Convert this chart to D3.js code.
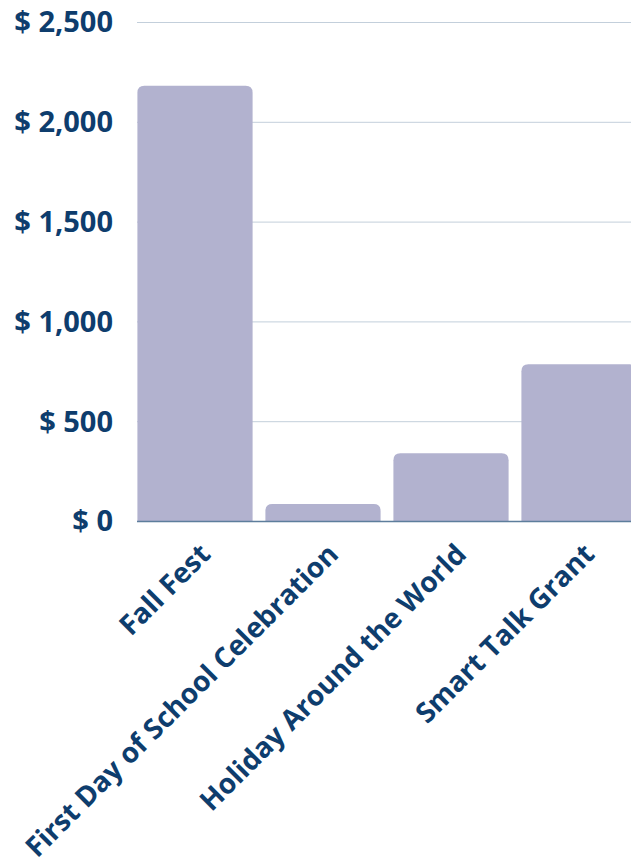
<!DOCTYPE html>
<meta charset="utf-8">
<style>
body { margin: 0; background: #fff; }
.tick-label { font-family: "Open Sans", sans-serif; font-weight: 700; fill: #0e3d6d; }
</style>
<body>
<script src="https://cdn.jsdelivr.net/npm/d3@7"></script>
<script>

// data
var categories = ["Fall Fest", "First Day of School Celebration", "Holiday Around the World", "Smart Talk Grant"];
var amounts = [2180, 85, 340, 785];
var yTicks = [0, 500, 1000, 1500, 2000, 2500];

var W = 631, H = 867;
var plotLeft = 137, plotTop = 22, plotBottom = 521;

var svg = d3.select("body").append("svg")
    .attr("width", W)
    .attr("height", H);

var x = d3.scaleBand()
    .domain(categories)
    .range([131, 643])
    .paddingInner(0.1)
    .paddingOuter(0.05);

var y = d3.scaleLinear()
    .domain([0, 2500])
    .range([plotBottom, plotTop]);

// gridlines
svg.append("g")
  .selectAll("line")
  .data(yTicks.slice(1))
  .join("line")
    .attr("x1", plotLeft)
    .attr("x2", W)
    .attr("y1", function(d) { return y(d) + 0.5; })
    .attr("y2", function(d) { return y(d) + 0.5; })
    .attr("stroke", "#c3cfdb")
    .attr("stroke-width", 1);

// y tick labels
svg.append("g")
  .selectAll("text")
  .data(yTicks)
  .join("text")
    .attr("class", "tick-label")
    .attr("x", 113)
    .attr("y", function(d) { return y(d); })
    .attr("dy", "0.36em")
    .attr("text-anchor", "end")
    .style("font-size", "29px")
    .text(function(d) { return "$ " + d3.format(",")(d); });

// bars with rounded top corners
var r = 7;
function barPath(d, i) {
  var x0 = x(categories[i]), w = x.bandwidth();
  var top = y(d), bot = y(0);
  return "M" + x0 + "," + bot +
    "V" + (top + r) +
    "Q" + x0 + "," + top + " " + (x0 + r) + "," + top +
    "H" + (x0 + w - r) +
    "Q" + (x0 + w) + "," + top + " " + (x0 + w) + "," + (top + r) +
    "V" + bot + "Z";
}

svg.append("g")
  .selectAll("path")
  .data(amounts)
  .join("path")
    .attr("d", barPath)
    .attr("fill", "#b2b2cf");

// baseline
svg.append("line")
    .attr("x1", plotLeft)
    .attr("x2", W)
    .attr("y1", y(0) + 0.5)
    .attr("y2", y(0) + 0.5)
    .attr("stroke", "#5d7e9c")
    .attr("stroke-width", 1.5);

// category labels, rotated
svg.append("g")
  .selectAll("text")
  .data(categories)
  .join("text")
    .attr("class", "tick-label")
    .attr("transform", function(d) {
      return "translate(" + (x(d) + x.bandwidth() / 2 + 17) + "," + 556 + ") rotate(-45)";
    })
    .attr("text-anchor", "end")
    .style("font-size", "28px")
    .text(function(d) { return d; });

</script>
</body>
